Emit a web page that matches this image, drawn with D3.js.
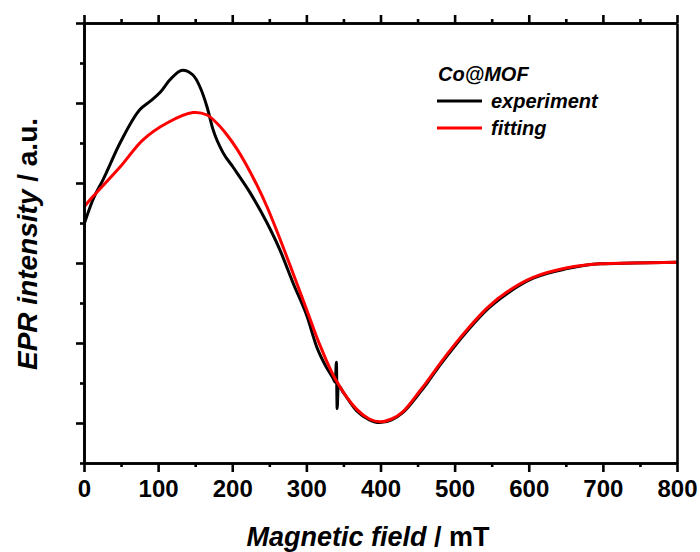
<!DOCTYPE html>
<html>
<head>
<meta charset="utf-8">
<script src="https://cdn.jsdelivr.net/npm/d3@7"></script>
<style>
  body { margin: 0; background: #fff; }
  svg { display: block; font-family: "Liberation Sans", Arial, sans-serif; }
  .axis path, .axis line { stroke: #000; stroke-width: 2.6; }
  .axis text { font-size: 24px; font-weight: bold; fill: #000; }
  .line { fill: none; stroke-width: 3; stroke-linejoin: round; }
</style>
</head>
<body>
<svg class="epr"></svg>
<script>
// magnetic field (mT) and intensity (a.u.)
var expField = [0, 12, 25.6, 48.6, 75.5, 89, 102.5, 116, 133, 147, 156.5, 166, 174, 187.5, 201,
    224, 247, 264, 282, 301, 314, 325, 336, 339, 340.5, 341.5, 343, 350, 368, 385, 399, 415, 430,
    453, 463, 480, 500, 517, 544, 571, 606, 652, 696, 741, 800];
var expIntensity = [0.48, 0.79, 1.04, 1.50, 1.92, 2.02, 2.13, 2.29, 2.41, 2.35, 2.20, 1.95, 1.67,
    1.38, 1.20, 0.88, 0.50, 0.17, -0.25, -0.67, -1.05, -1.27, -1.44, -1.49, -1.24, -1.82, -1.53,
    -1.62, -1.85, -1.96, -1.995, -1.96, -1.87, -1.62, -1.50, -1.28, -1.04, -0.85, -0.58, -0.38,
    -0.19, -0.07, -0.01, 0, 0.01];

var fitField = [0, 12, 48.6, 79.6, 112, 147, 166, 180, 193, 206, 220, 234, 247, 264, 278, 291,
    305, 318, 339, 368, 385, 399, 415, 430, 453, 463, 480, 500, 517, 544, 571, 606, 652, 696,
    741, 800];
var fitIntensity = [0.70, 0.83, 1.20, 1.54, 1.75, 1.88, 1.85, 1.74, 1.60, 1.43, 1.21, 0.96, 0.70,
    0.31, -0.03, -0.35, -0.70, -1.02, -1.45, -1.83, -1.95, -1.985, -1.95, -1.86, -1.60, -1.48,
    -1.26, -1.02, -0.83, -0.56, -0.36, -0.18, -0.06, -0.01, 0, 0.01];

var xTicks = [0, 100, 200, 300, 400, 500, 600, 700, 800];
var xMinorTicks = [50, 150, 250, 350, 450, 550, 650, 750];
var yTicks = [-2, -1, 0, 1, 2, 3];
var yMinorTicks = [-2.5, -1.5, -0.5, 0.5, 1.5, 2.5];

var seriesNames = ["experiment", "fitting"];
var seriesColors = ["#000000", "#ff0000"];
var sampleName = "Co@MOF";

CHART_WIDTH = 700;
CHART_HEIGHT = 552;
PLOT = { left: 84, right: 677, top: 23, bottom: 463 };

buildChart();

function buildChart() {
    var svg = d3.select(".epr")
        .attr("width", CHART_WIDTH)
        .attr("height", CHART_HEIGHT);

    var x = d3.scaleLinear().domain([0, 800]).range([PLOT.left, PLOT.right]);
    var y = d3.scaleLinear().domain([-2.5, 3]).range([PLOT.bottom, PLOT.top]);

    // the experiment has a narrow spike, so no overshooting curve for it
    var expLine = d3.line()
        .curve(d3.curveMonotoneX)
        .x(function(d) { return x(d[0]); })
        .y(function(d) { return y(d[1]); });
    var fitLine = d3.line()
        .curve(d3.curveCatmullRom.alpha(0.5))
        .x(function(d) { return x(d[0]); })
        .y(function(d) { return y(d[1]); });

    svg.append("path")
        .attr("class", "line")
        .attr("d", expLine(d3.zip(expField, expIntensity)))
        .style("stroke", seriesColors[0]);

    svg.append("path")
        .attr("class", "line")
        .attr("d", fitLine(d3.zip(fitField, fitIntensity)))
        .style("stroke", seriesColors[1]);

    drawAxes(svg, x, y);
    drawLegend(svg);
    drawTitles(svg);
}

function drawAxes(svg, x, y) {
    // bottom, labelled
    svg.append("g")
        .attr("class", "axis")
        .attr("transform", "translate(0," + PLOT.bottom + ")")
        .call(d3.axisBottom(x).tickValues(xTicks).tickSizeInner(9).tickSizeOuter(0)
            .tickPadding(8).tickFormat(d3.format("d")));
    svg.append("g")
        .attr("class", "axis")
        .attr("transform", "translate(0," + PLOT.bottom + ")")
        .call(d3.axisBottom(x).tickValues(xMinorTicks).tickSizeInner(4).tickSizeOuter(0)
            .tickFormat(""));

    // top
    svg.append("g")
        .attr("class", "axis")
        .attr("transform", "translate(0," + PLOT.top + ")")
        .call(d3.axisTop(x).tickValues(xTicks).tickSizeInner(8).tickSizeOuter(0).tickFormat(""));
    svg.append("g")
        .attr("class", "axis")
        .attr("transform", "translate(0," + PLOT.top + ")")
        .call(d3.axisTop(x).tickValues(xMinorTicks).tickSizeInner(4).tickSizeOuter(0).tickFormat(""));

    // left, no labels
    svg.append("g")
        .attr("class", "axis")
        .attr("transform", "translate(" + PLOT.left + ",0)")
        .call(d3.axisLeft(y).tickValues(yTicks).tickSizeInner(8).tickSizeOuter(0).tickFormat(""));
    svg.append("g")
        .attr("class", "axis")
        .attr("transform", "translate(" + PLOT.left + ",0)")
        .call(d3.axisLeft(y).tickValues(yMinorTicks).tickSizeInner(4).tickSizeOuter(0).tickFormat(""));

    // right, plain
    svg.append("g")
        .attr("class", "axis")
        .attr("transform", "translate(" + PLOT.right + ",0)")
        .call(d3.axisRight(y).tickValues([]).tickSizeOuter(0));
}

function drawLegend(svg) {
    var lg = svg.append("g").attr("transform", "translate(437,0)")
        .style("font-size", "20px").style("font-weight", "bold").style("font-style", "italic");

    lg.append("text").attr("x", 1).attr("y", 81).text(sampleName);

    seriesNames.forEach(function(name, i) {
        var yy = 101 + i * 27;
        lg.append("line")
            .attr("x1", 0).attr("x2", 45)
            .attr("y1", yy).attr("y2", yy)
            .style("stroke", seriesColors[i])
            .style("stroke-width", 3);
        lg.append("text")
            .attr("x", 54).attr("y", yy + 7)
            .text(name);
    });
}

function drawTitles(svg) {
    var xt = svg.append("text")
        .attr("x", 368).attr("y", 546)
        .attr("text-anchor", "middle")
        .style("font-size", "27px").style("font-weight", "bold");
    xt.append("tspan").style("font-style", "italic").text("Magnetic field");
    xt.append("tspan").text(" / mT");

    var yt = svg.append("text")
        .attr("transform", "translate(37,244) rotate(-90)")
        .attr("text-anchor", "middle")
        .style("font-size", "28px").style("font-weight", "bold");
    yt.append("tspan").style("font-style", "italic").text("EPR intensity");
    yt.append("tspan").text(" / a.u.");
}
</script>
</body>
</html>
